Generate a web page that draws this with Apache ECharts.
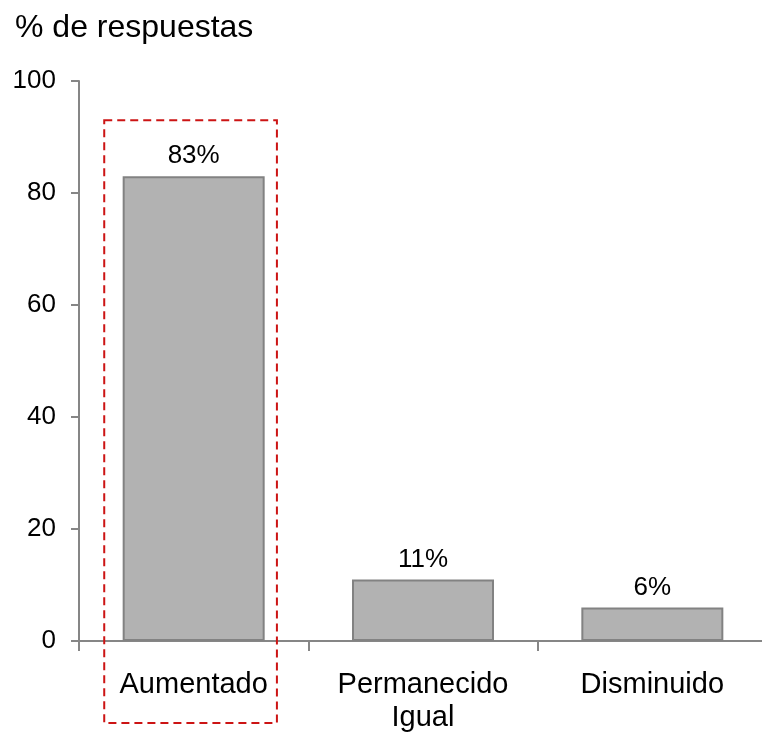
<!DOCTYPE html>
<html>
<head>
<meta charset="utf-8">
<script src="https://cdn.jsdelivr.net/npm/echarts@6/dist/echarts.min.js"></script>
<style>
  html, body { margin: 0; padding: 0; background: #fff; }
  #main { width: 762px; height: 735px; }
</style>
</head>
<body>
<div id="main"></div>
<script>
var categories = ['Aumentado', 'Permanecido\nIgual', 'Disminuido'];
var values = [83, 11, 6];
var yTicks = [0, 20, 40, 60, 80, 100];
var highlightTop = 93; // top of dashed box, in axis units

var font = 'Liberation Sans, Arial, sans-serif';
var axisGrey = '#868686';

var myChart = echarts.init(document.getElementById('main'));

var option = {
    animation: false,
    title: {
        text: '% de respuestas',
        left: 10,
        top: 7,
        textStyle: { fontFamily: font, fontSize: 32, fontWeight: 'normal', color: '#000' }
    },
    grid: { left: 79, top: 81, width: 688, height: 560, outerBoundsMode: 'none', containLabel: false },
    xAxis: {
        type: 'category',
        data: categories,
        axisLine: { lineStyle: { color: axisGrey, width: 2 } },
        axisTick: { show: true, length: 10, lineStyle: { color: axisGrey, width: 2 } },
        axisLabel: {
            margin: 27,
            fontFamily: font, fontSize: 29, color: '#000', lineHeight: 33
        }
    },
    yAxis: {
        type: 'value',
        min: yTicks[0],
        max: yTicks[yTicks.length - 1],
        interval: 20,
        axisLine: { show: true, lineStyle: { color: axisGrey, width: 2 } },
        axisTick: { show: true, length: 8, lineStyle: { color: axisGrey, width: 2 } },
        splitLine: { show: false },
        axisLabel: { margin: 23, fontFamily: font, fontSize: 26, color: '#000' }
    },
    series: [{
        type: 'bar',
        data: values,
        barWidth: 142,
        itemStyle: { color: '#b2b2b2', borderColor: '#828282', borderWidth: 2 },
        label: {
            show: true,
            position: 'top',
            distance: 7,
            formatter: '{c}%',
            fontFamily: font, fontSize: 26, color: '#000'
        }
    }]
};
myChart.setOption(option);

// dashed box around the first category, placed from the axes
var c0 = myChart.convertToPixel({ xAxisIndex: 0, yAxisIndex: 0 }, [0, highlightTop]);
var c1 = myChart.convertToPixel({ xAxisIndex: 0, yAxisIndex: 0 }, [1, 0]);
var band = c1[0] - c0[0];
var boxLeft = c0[0] - band * 0.39;
var boxRight = c0[0] + band * 0.363;
var boxBottom = c1[1] + 82;
myChart.setOption({
    graphic: [{
        type: 'rect',
        shape: { x: boxLeft, y: c0[1], width: boxRight - boxLeft, height: boxBottom - c0[1] },
        style: { fill: 'none', stroke: '#cc1414', lineWidth: 2, lineDash: [8, 5] },
        z: 10
    }]
});
</script>
</body>
</html>
